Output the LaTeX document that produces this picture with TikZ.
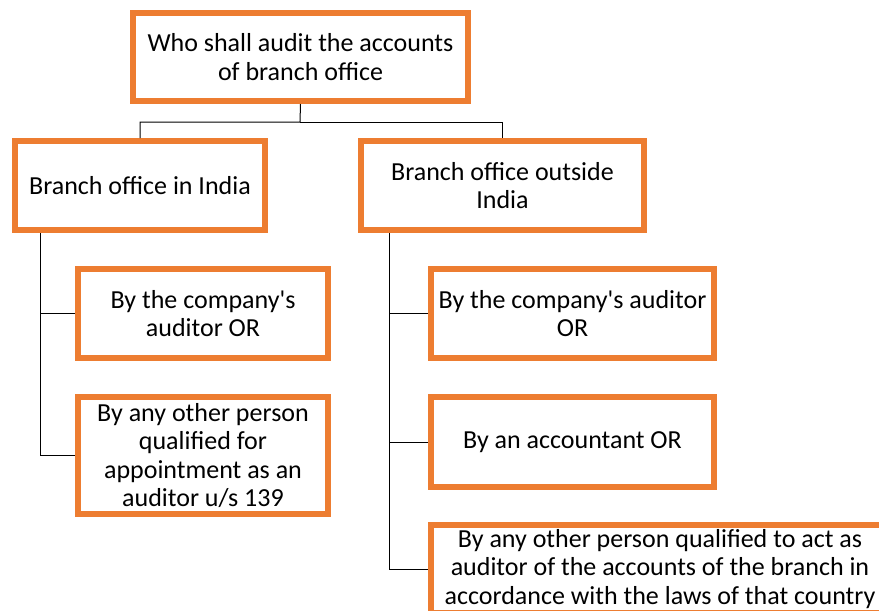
\documentclass[tikz,border=0pt]{standalone}
\usepackage{fontspec}
\setmainfont{Carlito}
\definecolor{boxorange}{HTML}{ED7D31}
\begin{document}
\begin{tikzpicture}[x=1pt,y=-1pt,
  box/.style={draw=boxorange, line width=6pt, fill=white, rectangle,
    inner sep=0pt, align=center, font=\fontsize{26}{28.5}\selectfont},
  link/.style={draw=black, line width=1pt}]
\useasboundingbox (0,0) rectangle (879,611);
\clip (0,0) rectangle (879,611);

% tree of boxes
\node[box, minimum width=335pt, minimum height=88pt] (top) at (300.5,57)
  {Who shall audit the accounts\\of branch office};
\node[box, minimum width=250pt, minimum height=89pt] (L1) at (140,185.5)
  {Branch office in India};
\node[box, minimum width=283pt, minimum height=89pt] (R1) at (502.5,185.5)
  {Branch office outside\\India};
\node[box, minimum width=250pt, minimum height=89pt] (L2a) at (203,313.5)
  {By the company\textquotesingle s\\auditor OR};
\node[box, minimum width=250pt, minimum height=117pt] (L2b) at (203,455.5)
  {By any other person\\qualified for\\appointment as an\\auditor u/s 139};
\node[box, minimum width=283pt, minimum height=89pt] (R2a) at (572.5,313.5)
  {By the company\textquotesingle s auditor\\OR};
\node[box, minimum width=283pt, minimum height=90pt] (R2b) at (572.5,442)
  {By an accountant OR};
\node[box, minimum width=458pt, minimum height=88pt] (R2c) at (660,569)
  {By any other person qualified to act as\\auditor of the accounts of the branch in\\accordance with the laws of that country};

% connectors
\coordinate (bus) at (300,122);
\coordinate (lx) at (40,0);
\coordinate (rx) at (389,0);
\draw[link] (top.south) -- (bus) -| (L1.north);
\draw[link] (bus) -| (R1.north);
\draw[link] (lx |- L1.south) |- (L2b.west);
\draw[link] (lx |- L2a.west) -- (L2a.west);
\draw[link] (rx |- R1.south) |- (R2c.west);
\draw[link] (rx |- R2a.west) -- (R2a.west);
\draw[link] (rx |- R2b.west) -- (R2b.west);
\end{tikzpicture}
\end{document}
